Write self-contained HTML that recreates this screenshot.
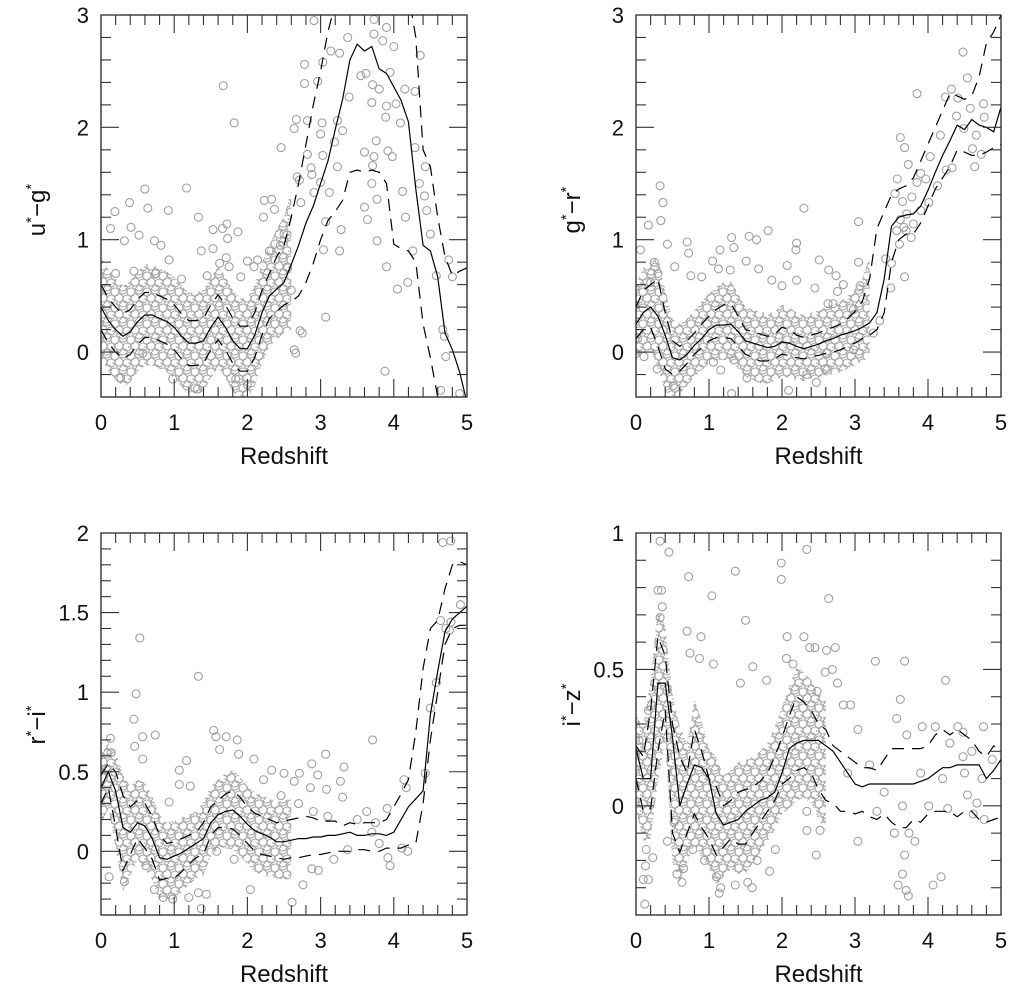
<!DOCTYPE html>
<html><head><meta charset="utf-8">
<style>
html,body{margin:0;padding:0;background:#fff;}
svg{display:block;font-family:"Liberation Sans",Arial,sans-serif;}
</style></head>
<body>
<svg id="chart" width="1019" height="1001" viewBox="0 0 1019 1001" xmlns="http://www.w3.org/2000/svg">
<defs>
<pattern id="dots" width="16" height="16" patternUnits="userSpaceOnUse">
<g fill="none" stroke="#a6a6a6" stroke-width="1.1">
<circle cx="3" cy="4" r="4"/>
<circle cx="11" cy="2" r="4"/>
<circle cx="7" cy="10" r="4"/>
<circle cx="15" cy="11" r="4"/>
<circle cx="1" cy="15" r="4"/>
<circle cx="12" cy="17" r="4"/>
<circle cx="-1" cy="11" r="4"/>
<circle cx="3" cy="20" r="4"/>
<circle cx="19" cy="4" r="4"/>
<circle cx="11" cy="-1" r="4"/>
<circle cx="7" cy="-6" r="4"/>
</g>
</pattern>
</defs>
</svg>
<script>
// ---------- data (z grid 0..5 step 0.1) ----------
const zGrid = [0,0.1,0.2,0.3,0.4,0.5,0.6,0.7,0.8,0.9,1.0,1.1,1.2,1.3,1.4,1.5,1.6,1.7,1.8,1.9,2.0,2.1,2.2,2.3,2.4,2.5,2.6,2.7,2.8,2.9,3.0,3.1,3.2,3.3,3.4,3.5,3.6,3.7,3.8,3.9,4.0,4.1,4.2,4.3,4.4,4.5,4.6,4.7,4.8,4.9,5.0];

const ugMedian = [0.40,0.28,0.20,0.14,0.18,0.27,0.33,0.33,0.30,0.27,0.22,0.14,0.08,0.08,0.10,0.22,0.31,0.22,0.10,0.03,0.03,0.15,0.35,0.50,0.56,0.62,0.78,0.95,1.15,1.30,1.50,1.70,1.98,2.25,2.60,2.74,2.68,2.72,2.52,2.48,2.36,2.24,2.05,1.45,0.95,0.90,0.67,0.17,0.02,-0.18,-0.45];
const ugUpper = [0.60,0.48,0.40,0.34,0.38,0.47,0.53,0.53,0.50,0.47,0.42,0.34,0.28,0.28,0.30,0.42,0.51,0.42,0.30,0.23,0.23,0.35,0.55,0.70,0.85,0.95,1.20,1.50,1.85,2.20,2.50,2.85,3.10,3.20,3.20,3.20,3.20,3.20,3.20,3.20,3.20,3.20,3.20,2.80,1.80,1.65,1.20,0.85,0.68,0.72,0.75];
const ugLower = [0.20,0.08,0.00,-0.06,-0.02,0.07,0.13,0.13,0.10,0.07,0.02,-0.06,-0.12,-0.12,-0.10,0.02,0.11,0.02,-0.10,-0.17,-0.17,-0.05,0.15,0.30,0.36,0.42,0.45,0.50,0.62,0.79,1.00,1.17,1.25,1.35,1.60,1.62,1.60,1.62,1.60,1.50,0.96,0.92,0.90,0.80,0.25,-0.05,-0.40,-0.60,-0.60,-0.60,-0.60];

const grMedian = [0.25,0.35,0.40,0.32,0.15,-0.05,-0.07,-0.02,0.06,0.12,0.20,0.24,0.24,0.25,0.18,0.10,0.08,0.06,0.04,0.05,0.09,0.08,0.05,0.03,0.05,0.07,0.10,0.12,0.15,0.17,0.19,0.22,0.26,0.35,0.65,1.12,1.20,1.22,1.23,1.30,1.44,1.60,1.75,1.88,2.02,1.98,2.07,2.02,2.00,1.96,2.18];
const grUpper = [0.40,0.55,0.60,0.65,0.35,0.10,0.05,0.10,0.17,0.25,0.32,0.38,0.42,0.43,0.32,0.20,0.18,0.16,0.14,0.16,0.22,0.20,0.15,0.13,0.15,0.17,0.20,0.22,0.25,0.30,0.36,0.45,0.65,1.10,1.25,1.40,1.45,1.48,1.55,1.70,1.85,2.00,2.15,2.30,2.28,2.25,2.28,2.45,2.75,2.85,3.00];
const grLower = [0.12,0.20,0.22,0.05,-0.15,-0.20,-0.17,-0.10,-0.02,0.04,0.10,0.13,0.13,0.12,0.05,-0.02,-0.05,-0.08,-0.08,-0.06,-0.02,-0.03,-0.05,-0.06,-0.04,-0.03,-0.01,0.00,0.02,0.05,0.08,0.12,0.15,0.20,0.35,0.80,1.00,1.05,1.05,1.15,1.30,1.45,1.55,1.65,1.80,1.78,1.75,1.75,1.78,1.82,1.85];

const riMedian = [0.40,0.50,0.38,0.15,0.12,0.18,0.16,0.08,-0.04,-0.05,-0.03,-0.01,0.02,0.05,0.08,0.18,0.23,0.25,0.26,0.22,0.17,0.13,0.11,0.09,0.06,0.06,0.07,0.08,0.08,0.09,0.09,0.10,0.10,0.11,0.12,0.10,0.10,0.11,0.11,0.10,0.12,0.20,0.28,0.33,0.38,0.86,1.13,1.38,1.46,1.50,1.54];
const riUpper = [0.48,0.55,0.50,0.35,0.28,0.32,0.30,0.22,0.10,0.05,0.06,0.08,0.10,0.12,0.18,0.28,0.32,0.36,0.38,0.34,0.28,0.24,0.22,0.20,0.18,0.19,0.20,0.21,0.22,0.21,0.19,0.19,0.19,0.16,0.18,0.17,0.18,0.18,0.18,0.20,0.28,0.36,0.45,0.75,1.15,1.40,1.45,1.65,1.80,1.82,1.80];
const riLower = [0.30,0.40,0.15,-0.12,-0.02,0.08,0.02,-0.05,-0.18,-0.17,-0.17,-0.13,-0.08,-0.04,-0.02,0.10,0.15,0.15,0.14,0.10,0.05,0.00,-0.02,-0.03,-0.04,-0.05,-0.04,-0.04,-0.03,-0.02,-0.02,-0.01,0.00,0.00,0.00,0.01,0.01,0.00,0.00,0.02,0.02,0.02,0.04,0.05,0.30,0.70,1.00,1.30,1.40,1.42,1.42];

const izMedian = [0.21,0.10,0.10,0.45,0.45,0.25,0.00,0.08,0.15,0.14,0.10,-0.03,-0.07,-0.06,-0.05,-0.02,0.00,0.02,0.03,0.05,0.12,0.21,0.23,0.24,0.24,0.24,0.22,0.20,0.16,0.12,0.08,0.07,0.08,0.08,0.08,0.08,0.08,0.08,0.08,0.09,0.10,0.12,0.14,0.14,0.15,0.15,0.15,0.15,0.10,0.13,0.17];
const izUpper = [0.22,0.18,0.35,0.62,0.55,0.30,0.18,0.12,0.28,0.20,0.10,0.07,0.00,0.02,0.05,0.06,0.07,0.09,0.12,0.18,0.25,0.33,0.40,0.38,0.35,0.30,0.28,0.22,0.20,0.18,0.16,0.14,0.14,0.13,0.17,0.21,0.21,0.21,0.21,0.21,0.22,0.26,0.28,0.26,0.28,0.26,0.24,0.20,0.18,0.22,0.20];
const izLower = [0.10,-0.02,-0.01,0.20,0.35,-0.10,-0.17,-0.10,-0.03,-0.08,-0.12,-0.18,-0.15,-0.12,-0.14,-0.14,-0.10,-0.06,-0.02,0.02,0.08,0.10,0.13,0.14,0.12,0.06,0.02,0.01,-0.02,-0.02,-0.03,-0.02,-0.04,-0.05,-0.03,-0.06,-0.08,-0.08,-0.05,-0.06,-0.03,-0.02,-0.02,-0.02,-0.04,-0.02,-0.02,-0.05,-0.06,-0.05,-0.04];

// scatter points (redshift, colour)
const ugPoints = [[2.91,2.95],[3.37,2.8],[3.73,2.96],[3.9,2.89],[3.73,2.83],[3.85,2.77],[4.0,2.72],[4.36,2.64],[3.14,2.68],[3.26,2.66],[3.03,2.58],[2.78,2.56],[2.96,2.41],[2.78,2.39],[3.55,2.46],[3.62,2.48],[3.95,2.49],[3.71,2.38],[3.8,2.34],[3.39,2.27],[3.7,2.22],[3.9,2.19],[4.03,2.21],[4.15,2.34],[4.29,2.32],[1.67,2.37],[1.82,2.04],[3.89,2.09],[4.09,2.04],[2.67,2.07],[2.64,1.99],[2.82,2.06],[3.23,2.06],[3.3,1.97],[3.02,2.04],[3.0,1.94],[3.19,1.87],[2.46,1.82],[2.82,1.76],[3.03,1.75],[3.76,1.88],[3.6,1.78],[3.73,1.74],[3.92,1.79],[3.98,1.74],[4.29,1.82],[4.43,1.65],[3.23,1.65],[3.71,1.66],[2.87,1.64],[2.88,1.58],[2.68,1.56],[2.71,1.53],[3.7,1.5],[3.0,1.51],[3.12,1.42],[2.91,1.42],[4.35,1.5],[4.12,1.43],[4.42,1.39],[3.77,1.36],[2.73,1.33],[2.23,1.35],[2.33,1.36],[4.45,1.26],[3.6,1.29],[4.16,1.2],[3.64,1.18],[3.07,1.16],[3.28,1.09],[4.5,1.05],[3.77,0.99],[3.04,0.91],[3.26,0.9],[4.26,0.9],[4.75,0.82],[4.8,0.67],[4.58,0.68],[3.9,0.76],[4.05,0.56],[4.19,0.62],[3.07,0.31],[2.72,0.19],[2.75,0.17],[2.64,0.02],[2.66,-0.01],[4.67,0.2],[4.69,0.14],[4.71,-0.04],[3.88,-0.17],[4.64,-0.34],[4.9,-0.37],[0.6,1.45],[1.17,1.46],[0.19,1.25],[0.39,1.33],[0.64,1.28],[0.92,1.26],[1.33,1.2],[0.13,1.1],[0.41,1.11],[1.53,1.09],[1.66,1.1],[1.72,1.14],[1.87,1.07],[1.73,1.01],[2.37,1.27],[2.22,1.2],[0.73,0.99],[0.82,0.95],[0.52,1.04],[0.32,0.99],[1.37,0.9],[1.53,0.92],[0.93,0.82],[1.71,0.84],[2.0,0.81],[2.14,0.82],[1.62,0.79],[1.75,0.76],[2.09,0.76],[1.91,0.67],[0.98,-0.24],[0.27,-0.23],[1.32,-0.33],[2.0,-0.29],[1.84,-0.24],[0.57,-0.01],[0.2,0.7],[0.45,0.72],[0.75,0.7],[1.1,0.65],[1.45,0.68],[2.3,0.9],[2.45,0.95],[2.5,1.05],[2.55,0.75],[2.6,0.55]];

const grPoints = [[0.33,1.48],[0.37,1.33],[0.17,1.13],[0.34,1.17],[4.48,2.67],[4.54,2.44],[3.85,2.3],[4.24,2.27],[4.32,2.34],[4.41,2.26],[4.58,2.17],[4.76,2.21],[4.39,2.1],[4.77,2.09],[4.49,1.99],[4.66,1.93],[4.17,1.93],[3.62,1.91],[3.68,1.82],[4.61,1.81],[4.73,1.76],[4.03,1.74],[3.73,1.67],[4.64,1.65],[4.25,1.62],[4.33,1.64],[3.9,1.59],[3.97,1.54],[3.58,1.54],[4.13,1.48],[3.85,1.51],[3.55,1.41],[3.78,1.38],[4.01,1.33],[3.65,1.34],[3.9,1.26],[3.71,1.23],[3.62,1.18],[3.8,1.14],[3.57,1.08],[3.67,1.11],[3.7,1.08],[3.77,1.02],[3.61,0.96],[3.42,0.83],[3.5,0.79],[3.68,0.67],[3.49,0.57],[2.3,1.28],[3.05,1.16],[3.05,0.8],[1.31,1.02],[1.55,1.03],[1.65,1.0],[1.81,1.08],[0.7,0.98],[0.72,0.88],[1.15,0.91],[1.34,0.93],[2.2,0.97],[2.19,0.91],[1.05,0.81],[1.13,0.74],[1.51,0.81],[1.68,0.74],[2.07,0.77],[2.51,0.82],[2.64,0.73],[2.74,0.68],[2.84,0.6],[3.07,0.59],[0.75,0.68],[0.9,0.67],[1.29,0.73],[1.86,0.64],[2.0,0.59],[2.2,0.64],[2.45,0.57],[2.63,0.43],[2.7,0.43],[2.76,0.54],[2.98,0.38],[0.53,0.76],[0.43,0.96],[0.06,0.91],[1.52,-0.23],[2.09,-0.34],[1.31,-0.37],[2.34,-0.2],[2.47,-0.27],[2.59,-0.15],[1.16,-0.16],[1.06,-0.09],[1.34,-0.07],[0.51,-0.3],[0.29,-0.15],[0.02,0.12],[0.11,-0.04],[3.34,0.28],[2.98,0.02],[3.25,0.17],[2.61,-0.01],[0.25,0.8],[0.3,0.7],[0.2,0.62]];

const riPoints = [[4.67,1.94],[4.78,1.95],[4.91,1.55],[4.78,1.44],[4.64,1.45],[4.71,1.4],[4.76,1.39],[4.58,1.06],[4.5,0.9],[0.53,1.34],[1.33,1.1],[0.48,0.99],[0.45,0.83],[0.46,0.66],[0.57,0.72],[0.74,0.73],[1.54,0.76],[1.57,0.72],[1.71,0.72],[1.86,0.7],[1.62,0.64],[3.71,0.7],[3.07,0.61],[2.88,0.55],[2.09,0.58],[1.88,0.61],[1.17,0.57],[1.07,0.51],[2.5,0.49],[2.71,0.49],[2.96,0.48],[3.32,0.53],[3.27,0.44],[3.08,0.39],[3.3,0.34],[2.33,0.51],[2.22,0.45],[2.64,0.44],[2.46,0.35],[2.86,0.4],[4.14,0.45],[4.17,0.4],[4.43,0.49],[3.91,0.27],[3.63,0.25],[1.22,0.41],[1.07,0.42],[0.93,0.31],[0.13,0.71],[0.14,0.62],[0.07,0.52],[0.57,0.58],[0.32,-0.19],[0.11,-0.16],[0.85,-0.29],[0.98,-0.3],[1.2,-0.29],[1.33,-0.26],[1.44,-0.27],[1.37,-0.36],[2.04,-0.24],[2.61,-0.32],[2.76,-0.21],[2.88,-0.11],[2.97,-0.12],[3.18,-0.05],[3.95,-0.09],[4.19,0.0],[4.11,0.02],[1.82,-0.05],[1.58,0.0],[3.37,0.01],[3.92,-0.04],[0.73,-0.24],[0.61,-0.09],[2.7,0.3],[2.9,0.25],[3.1,0.22],[3.5,0.2],[3.75,0.18],[3.8,0.05],[3.7,0.12]];

const izPoints = [[0.33,0.97],[0.45,0.93],[2.34,0.94],[1.99,0.89],[1.99,0.83],[0.72,0.84],[1.36,0.86],[2.64,0.76],[1.04,0.77],[1.5,0.68],[0.3,0.79],[0.35,0.79],[0.36,0.73],[0.33,0.69],[0.7,0.64],[0.89,0.62],[2.07,0.62],[2.3,0.62],[2.38,0.58],[2.45,0.58],[2.73,0.58],[2.61,0.57],[3.28,0.53],[3.68,0.53],[4.24,0.46],[1.06,0.52],[1.6,0.51],[0.74,0.56],[0.87,0.54],[2.06,0.54],[2.15,0.52],[1.79,0.46],[1.43,0.45],[2.59,0.49],[2.69,0.5],[2.76,0.45],[2.48,0.42],[2.84,0.37],[2.94,0.37],[3.62,0.39],[3.04,0.28],[3.57,0.32],[3.71,0.26],[3.92,0.29],[4.1,0.29],[4.41,0.29],[4.76,0.29],[4.48,0.27],[4.3,0.23],[4.48,0.18],[4.88,0.17],[4.74,0.1],[4.67,0.01],[4.77,-0.05],[4.62,-0.03],[4.54,0.04],[4.01,0.0],[3.65,0.0],[4.27,-0.01],[3.04,-0.13],[3.54,-0.1],[3.74,-0.1],[3.82,-0.13],[3.68,-0.18],[3.65,-0.25],[3.59,-0.29],[3.7,-0.31],[3.73,-0.33],[4.07,-0.29],[4.18,-0.26],[2.47,-0.18],[2.34,-0.09],[2.52,-0.09],[2.34,-0.02],[0.12,-0.36],[0.1,-0.27],[0.17,-0.27],[0.13,-0.22],[0.23,-0.19],[0.14,-0.16],[0.43,-0.13],[0.56,-0.25],[0.63,-0.28],[0.65,-0.23],[0.94,-0.2],[1.1,-0.26],[1.14,-0.32],[1.16,-0.3],[1.36,-0.29],[1.53,-0.28],[1.59,-0.3],[1.66,-0.2],[1.83,-0.24],[1.91,-0.16],[0.78,-0.16],[0.52,-0.06],[0.17,0.35],[0.04,0.24],[3.2,0.15],[3.4,0.05],[3.9,0.12],[4.2,0.1],[4.5,0.12],[3.3,-0.02],[2.9,0.12],[4.6,0.2]];

const xTickLabels = ["0","1","2","3","4","5"];
const ugTickLabels = ["0","1","2","3"];
const grTickLabels = ["0","1","2","3"];
const riTickLabels = ["0","0.5","1","1.5","2"];
const izTickLabels = ["0","0.5","1"];

// ---------- layout ----------
const panels = [
  {id:"ug",x0:101,x1:467,y0:15,y1:397,ymin:-0.4,ymax:3,minorY:0.2,majorY:1,med:ugMedian,up:ugUpper,lo:ugLower,pts:ugPoints,yl:ugTickLabels,ystep:1,a:"u",b:"g",tx:45,ty:210,dense:2.6,pad:0.25},
  {id:"gr",x0:636,x1:1001,y0:15,y1:397,ymin:-0.4,ymax:3,minorY:0.2,majorY:1,med:grMedian,up:grUpper,lo:grLower,pts:grPoints,yl:grTickLabels,ystep:1,a:"g",b:"r",tx:580,ty:210,dense:3.2,pad:0.2},
  {id:"ri",x0:101,x1:467,y0:533,y1:915,ymin:-0.4,ymax:2,minorY:0.1,majorY:0.5,med:riMedian,up:riUpper,lo:riLower,pts:riPoints,yl:riTickLabels,ystep:0.5,a:"r",b:"i",tx:45,ty:725,dense:2.6,pad:0.13},
  {id:"iz",x0:636,x1:1001,y0:533,y1:915,ymin:-0.4,ymax:1,minorY:0.1,majorY:0.5,med:izMedian,up:izUpper,lo:izLower,pts:izPoints,yl:izTickLabels,ystep:0.5,a:"i",b:"z",tx:580,ty:705,dense:2.6,pad:0.11}
];
const NS="http://www.w3.org/2000/svg";
const svg=document.getElementById("chart");
const defs=svg.querySelector("defs");
function mk(tag,attrs,parent){const e=document.createElementNS(NS,tag);for(const k in attrs)e.setAttribute(k,attrs[k]);(parent||svg).appendChild(e);return e;}

panels.forEach(p=>{
  const sx=z=>p.x0+(z-0)/5*(p.x1-p.x0);
  const sy=v=>p.y1-(v-p.ymin)/(p.ymax-p.ymin)*(p.y1-p.y0);
  const g=mk("g",{});
  
  
  const cp=mk("clipPath",{id:"clip-"+p.id},defs);
  mk("rect",{x:p.x0,y:p.y0,width:p.x1-p.x0,height:p.y1-p.y0},cp);
  const plot=mk("g",{"clip-path":"url(#clip-"+p.id+")"},g);
  
  
  // dense band
  let top=[],bot=[];
  zGrid.forEach((z,i)=>{ if(z<=p.dense){ top.push(sx(z).toFixed(1)+","+sy(p.up[i]+p.pad).toFixed(1)); bot.unshift(sx(z).toFixed(1)+","+sy(p.lo[i]-p.pad).toFixed(1)); }});
  const band=mk("polygon",{points:top.concat(bot).join(" "),fill:"url(#dots)",stroke:"none"},plot);
  
  
  // points
  const pg=mk("g",{fill:"none",stroke:"#a0a0a0","stroke-width":"1.1"},plot);
  
  
  p.pts.forEach(pt=>{
    const c=mk("circle",{cx:sx(pt[0]).toFixed(1),cy:sy(pt[1]).toFixed(1),r:4},pg);
    
    
  });
  // lines
  const line=(arr,dash,name)=>{
    const d=zGrid.map((z,i)=>(i?"L":"M")+sx(z).toFixed(1)+","+sy(arr[i]).toFixed(1)).join("");
    const el=mk("path",{d:d,fill:"none",stroke:"#000","stroke-width":"1.2","stroke-dasharray":dash},plot);
    
    
  };
  line(p.med,"none",p.id+"-median-line");
  line(p.up,"12,8",p.id+"-upper-quartile-line");
  line(p.lo,"12,8",p.id+"-lower-quartile-line");
  // frame
  const fr=mk("rect",{x:p.x0,y:p.y0,width:p.x1-p.x0,height:p.y1-p.y0,fill:"none",stroke:"#222","stroke-width":"1.3"},g);
  
  
  // ticks
  const tk=mk("g",{stroke:"#333","stroke-width":"1.1"},g);
  
  
  for(let k=0;k<=25;k++){
    const z=k*0.2, x=sx(z), L=(k%5===0)?18:10;
    mk("line",{x1:x,y1:p.y1,x2:x,y2:p.y1-L},tk);
    mk("line",{x1:x,y1:p.y0,x2:x,y2:p.y0+L},tk);
  }
  const nY=Math.round((p.ymax-p.ymin)/p.minorY);
  for(let k=0;k<=nY;k++){
    const v=p.ymin+k*p.minorY, y=sy(v);
    const r=v/p.majorY, L=Math.abs(r-Math.round(r))<1e-6?18:10;
    mk("line",{x1:p.x0,y1:y,x2:p.x0+L,y2:y},tk);
    mk("line",{x1:p.x1,y1:y,x2:p.x1-L,y2:y},tk);
  }
  // x labels
  xTickLabels.forEach((t,i)=>{
    const el=mk("text",{x:sx(i),y:p.y1+33,"font-size":"22","text-anchor":"middle",fill:"#111"},g);
    el.textContent=t;
    
    
  });
  const xt=mk("text",{x:(p.x0+p.x1)/2,y:p.y1+67,"font-size":"24","text-anchor":"middle",fill:"#111"},g);
  xt.textContent="Redshift";
  
  
  // y labels
  p.yl.forEach((t,i)=>{
    const el=mk("text",{x:p.x0-12,y:sy(i*p.ystep)+8,"font-size":"22","text-anchor":"end",fill:"#111"},g);
    el.textContent=t;
    
    
  });
  const yt=mk("text",{x:0,y:0,"font-size":"24","text-anchor":"middle",fill:"#111",transform:"translate("+p.tx+","+p.ty+") rotate(-90)"},g);
  
  
  const s1=mk("tspan",{},yt); s1.textContent=p.a;
  const s2=mk("tspan",{dy:"-9","font-size":"15"},yt); s2.textContent="*";
  const s3=mk("tspan",{dy:"9"},yt); s3.textContent="\u2212"+p.b;
  const s4=mk("tspan",{dy:"-9","font-size":"15"},yt); s4.textContent="*";
});
</script>
</body></html>
